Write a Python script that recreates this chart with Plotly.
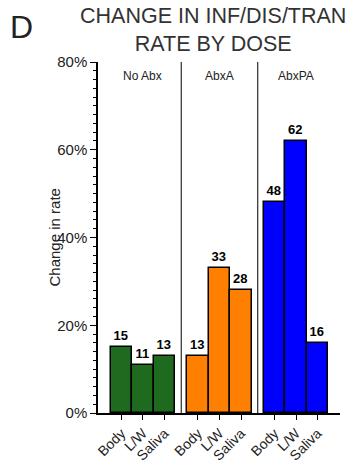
import plotly.graph_objects as go

# Change in infection/disease/transmission rate (%) per antibiotic dose group
groups = ["No Abx", "AbxA", "AbxPA"]
measures = ["Body", "L/W", "Saliva"]
no_abx = [15, 11, 13]
abx_a = [13, 33, 28]
abx_pa = [48, 62, 16]
group_values = [no_abx, abx_a, abx_pa]
group_colors = ["#1e6a1e", "#ff8000", "#0000ff"]

FONT = "Liberation Sans, Arial, Helvetica, sans-serif"
GROUP_STEP = 3.55  # spacing between group starts, in bar widths

fig = go.Figure()
tickvals, ticktext = [], []
for gi, (name, vals, col) in enumerate(zip(groups, group_values, group_colors)):
    xs = [gi * GROUP_STEP + j for j in range(len(measures))]
    tickvals += xs
    ticktext += measures
    fig.add_trace(go.Bar(
        x=xs,
        y=[v / 100 for v in vals],
        width=1,
        marker=dict(color=col, line=dict(color="black", width=1.5)),
        text=[str(v) for v in vals],
        textposition="outside",
        textfont=dict(family=FONT, size=13, color="black", weight="bold"),
        cliponaxis=False,
        name=name,
        showlegend=False,
        hoverinfo="skip",
    ))
    # group heading
    fig.add_annotation(
        x=xs[1], y=0.8, xref="x", yref="y", text=name, showarrow=False,
        yanchor="top", yshift=-5,
        font=dict(family=FONT, size=12, color="#222"),
    )
    # divider between groups
    if gi < len(groups) - 1:
        sep = gi * GROUP_STEP + len(measures) - 0.5 + (GROUP_STEP - len(measures)) / 2
        fig.add_shape(type="line", xref="x", yref="paper", x0=sep, x1=sep,
                      y0=0, y1=1, line=dict(color="black", width=1))

last_right = (len(groups) - 1) * GROUP_STEP + len(measures) - 0.5
fig.update_xaxes(
    range=[-1.085, last_right + 0.54], automargin=False,
    tickmode="array", tickvals=tickvals, ticktext=ticktext,
    tickangle=-45, ticks="outside", ticklen=5, tickwidth=1.2, tickcolor="black",
    tickfont=dict(family=FONT, size=14, color="#222"),
    showline=True, linecolor="black", linewidth=1.5,
    showgrid=False, zeroline=False,
)
fig.update_yaxes(
    range=[0, 0.8], automargin=False,
    tickmode="linear", tick0=0, dtick=0.2, tickformat=".0%",
    ticks="outside", ticklen=6, tickwidth=1.2, tickcolor="black",
    minor=dict(dtick=0.02, ticks="outside", ticklen=3, tickwidth=1, tickcolor="black"),
    tickfont=dict(family=FONT, size=15, color="#222"),
    showline=True, linecolor="black", linewidth=1.5,
    showgrid=False, zeroline=False,
)

# y-axis title, placed just left of the tick labels
fig.add_annotation(
    x=0, y=0.5, xref="paper", yref="paper", text="Change in rate",
    showarrow=False, textangle=-90, xanchor="center", yanchor="middle",
    xshift=-44, font=dict(family=FONT, size=15, color="#222"),
)

# chart title
fig.add_annotation(
    x=0.5, y=1, xref="paper", yref="paper", xanchor="center", yanchor="bottom",
    text="CHANGE IN INF/DIS/TRAN<br>RATE BY DOSE", showarrow=False,
    xshift=-6, yshift=4,
    font=dict(family=FONT, size=21.5, color="#333"),
)

# panel letter
fig.add_annotation(
    x=0, y=1, xref="paper", yref="paper", xanchor="left", yanchor="top",
    text="D", showarrow=False, xshift=-90, yshift=55,
    font=dict(family=FONT, size=32, color="#222"),
)

fig.update_layout(
    width=350, height=463,
    margin=dict(l=98, r=10, t=62, b=50),
    plot_bgcolor="white", paper_bgcolor="white",
    bargap=0,
)

fig.write_html("out.html")
